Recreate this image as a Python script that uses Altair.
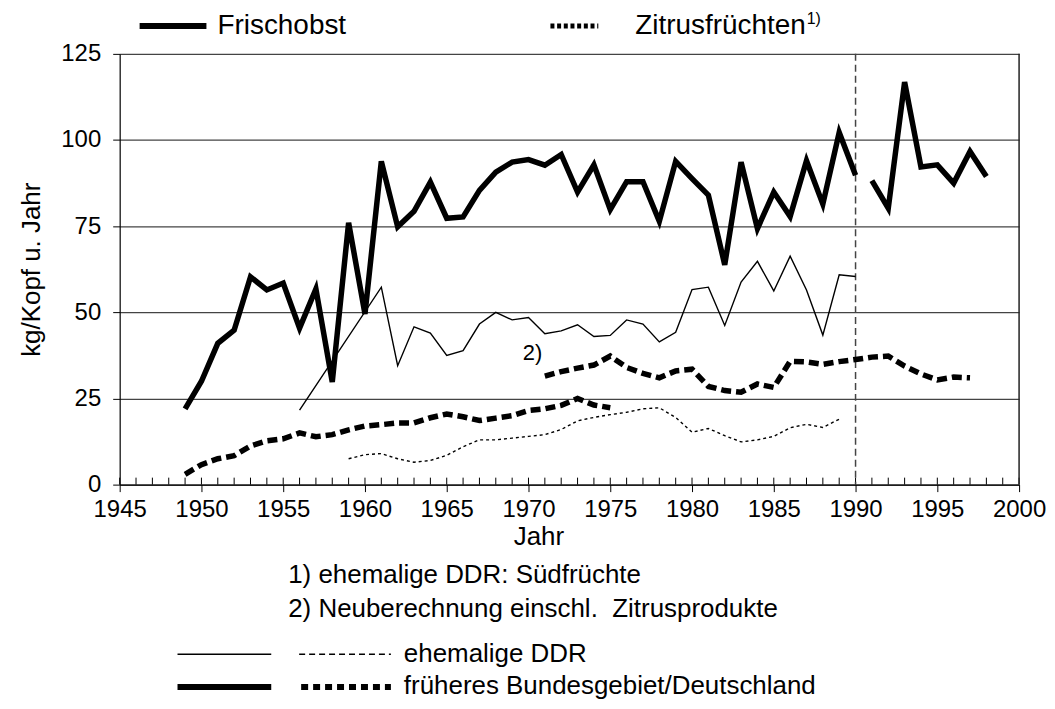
import altair as alt
import pandas as pd

FONT = "Liberation Sans"

# ---- data (kg per head and year) ----
fo_west_years_a = list(range(1949, 1991))
fo_west_a = [22, 30, 41, 44.8, 60.3, 56.5, 58.5, 45.4, 56.8, 29.8,
             76, 49.5, 93.8, 74.8, 79.3, 87.8, 77.3, 77.7, 85.4, 90.7,
             93.6, 94.3, 92.7, 95.8, 84.9, 92.8, 79.8, 87.9, 87.9, 76.4,
             93.8, 88.8, 84, 63.8, 93.6, 74.3, 84.9, 77.8, 94, 81.4,
             102.2, 89.8]
fo_west_years_b = list(range(1991, 1999))
fo_west_b = [88.2, 80.2, 116.8, 92.2, 92.8, 87.5, 96.7, 89.4]

fo_ddr_years = [1956] + list(range(1961, 1991))
fo_ddr = [21.6, 57.3, 34.5, 45.8, 44, 37.5, 38.9, 46.6, 50, 47.8,
          48.5, 43.8, 44.6, 46.4, 43, 43.3, 47.8, 46.6, 41.4, 44.2,
          56.6, 57.3, 46.2, 58.8, 64.8, 56.2, 66.3, 56.5, 43.4, 60.9, 60.4]

zi_west_years_a = list(range(1949, 1976))
zi_west_a = [3, 5.8, 7.5, 8.4, 11.2, 12.7, 13.3, 15, 13.9, 14.5,
             15.9, 17, 17.4, 17.9, 17.9, 19.4, 20.5, 19.7, 18.6, 19.3,
             20, 21.5, 22, 23, 25, 23.1, 22.3]
zi_west_years_b = list(range(1971, 1998))
zi_west_b = [31.5, 32.8, 33.8, 34.7, 37.3, 34, 32.3, 31, 33, 33.5,
             28.5, 27.3, 26.8, 29.2, 28.2, 35.8, 35.6, 34.9, 35.7, 36.3,
             37, 37.3, 34.4, 32.1, 30.4, 31.2, 31]

zi_ddr_years = list(range(1959, 1990))
zi_ddr = [7.5, 8.7, 9, 7.5, 6.5, 7, 8.5, 11, 13, 13,
          13.5, 14, 14.5, 16, 18.5, 19.5, 20.3, 21, 22, 22.3,
          19.5, 15.2, 16.3, 14.2, 12.4, 13, 14, 16.5, 17.5, 16.6, 19]

x_ticks = list(range(1945, 2001, 5))
x_minor = list(range(1945, 2001))
y_ticks = [0, 25, 50, 75, 100, 125]
wende_year = [1990]

W, H = 902, 432
OX, OY = 120, 53  # page position of the plot origin


def frame(years, values, seg):
    return pd.DataFrame({"year": years, "value": values, "seg": seg})


xs = alt.Scale(domain=[1945, 2000], nice=False, zero=False)
ys = alt.Scale(domain=[0, 125], nice=False)

X = alt.X("year:Q", scale=xs,
          axis=alt.Axis(values=x_ticks, format="d", title="Jahr",
                        grid=False, tickSize=7, labelPadding=6,
                        labelOverlap=False, labelFlush=False,
                        titlePadding=2, titleX=540 - OX))
Y = alt.Y("value:Q", scale=ys,
          axis=alt.Axis(values=y_ticks, title="kg/Kopf u. Jahr", grid=True,
                        tickSize=7, labelPadding=12, titlePadding=16,
                        labelOverlap=False))

fo_west = pd.concat([frame(fo_west_years_a, fo_west_a, "a"),
                     frame(fo_west_years_b, fo_west_b, "b")])
zi_west = pd.concat([frame(zi_west_years_a, zi_west_a, "a"),
                     frame(zi_west_years_b, zi_west_b, "b")])

minor = alt.Chart(pd.DataFrame({"year": x_minor})).mark_rule(
    color="black", strokeWidth=1).encode(
    x=alt.X("year:Q", scale=xs), y=alt.value(H), y2=alt.value(H - 7))

wende = alt.Chart(pd.DataFrame({"year": wende_year})).mark_rule(
    color="#444", strokeWidth=1.5, strokeDash=[7, 4]).encode(
    x=alt.X("year:Q", scale=xs), y=alt.value(0), y2=alt.value(H))

border = alt.Chart(pd.DataFrame({"year": [2000]})).mark_rule(
    color="#222", strokeWidth=1.5).encode(
    x=alt.X("year:Q", scale=xs), y=alt.value(0), y2=alt.value(H))

l_fo_west = alt.Chart(fo_west).mark_line(
    color="black", strokeWidth=5.5, strokeJoin="miter").encode(
    x=X, y=Y, detail="seg:N")
l_fo_ddr = alt.Chart(frame(fo_ddr_years, fo_ddr, "a")).mark_line(
    color="black", strokeWidth=1.4).encode(x=X, y=Y)
l_zi_west = alt.Chart(zi_west).mark_line(
    color="black", strokeWidth=5.5, strokeDash=[10, 5]).encode(
    x=X, y=Y, detail="seg:N")
l_zi_ddr = alt.Chart(frame(zi_ddr_years, zi_ddr, "a")).mark_line(
    color="black", strokeWidth=1.4, strokeDash=[3, 3]).encode(x=X, y=Y)

one = pd.DataFrame({"a": [0]})


def rule(x1, x2, y, width, dash=None):
    kw = dict(color="black", strokeWidth=width, strokeCap="butt")
    if dash:
        kw["strokeDash"] = dash
    return alt.Chart(one).mark_rule(**kw).encode(
        x=alt.value(x1 - OX), x2=alt.value(x2 - OX), y=alt.value(y - OY))


def label(txt, x, y, size=26, align="left", baseline="middle"):
    return alt.Chart(one).mark_text(
        align=align, baseline=baseline, font=FONT, fontSize=size,
        color="black").encode(
        x=alt.value(x - OX), y=alt.value(y - OY), text=alt.value(txt))


annots = [
    rule(140, 207, 25, 6),
    label("Frischobst", 218, 25, size=28),
    rule(552, 600, 25, 5, [4, 2.7]),
    label("Zitrusfrüchten", 637, 25, size=28),
    label("1)", 809, 18, size=16),
    label("2)", 534, 353, size=22, align="center"),
    label("1) ehemalige DDR: Südfrüchte", 289, 576),
    label("2) Neuberechnung einschl.\u00a0 Zitrusprodukte", 289, 610),
    rule(178, 272, 655, 1.5),
    rule(300, 392, 655, 1.5, [6, 4]),
    label("ehemalige DDR", 405, 655),
    rule(178, 272, 688, 6),
    rule(302, 392, 688, 6, [7, 5]),
    label("früheres Bundesgebiet/Deutschland", 405, 695, baseline="alphabetic"),
]

chart = alt.layer(
    minor, wende, border, l_zi_ddr, l_fo_ddr, l_zi_west, l_fo_west, *annots
).properties(
    width=W, height=H,
    autosize=alt.AutoSizeParams(type="none"),
    padding={"left": OX - 8, "top": OY - 8, "right": 28, "bottom": 216},
).configure_axis(
    labelFont=FONT, titleFont=FONT, labelFontSize=24, titleFontSize=26,
    titleFontWeight="normal", labelColor="black", titleColor="black",
    domainColor="black", tickColor="black", gridColor="#444",
    gridWidth=1.2, domainWidth=1.2,
).configure_view(stroke=None)

chart.save("out.html", embed_options={"renderer": "svg", "actions": False})
